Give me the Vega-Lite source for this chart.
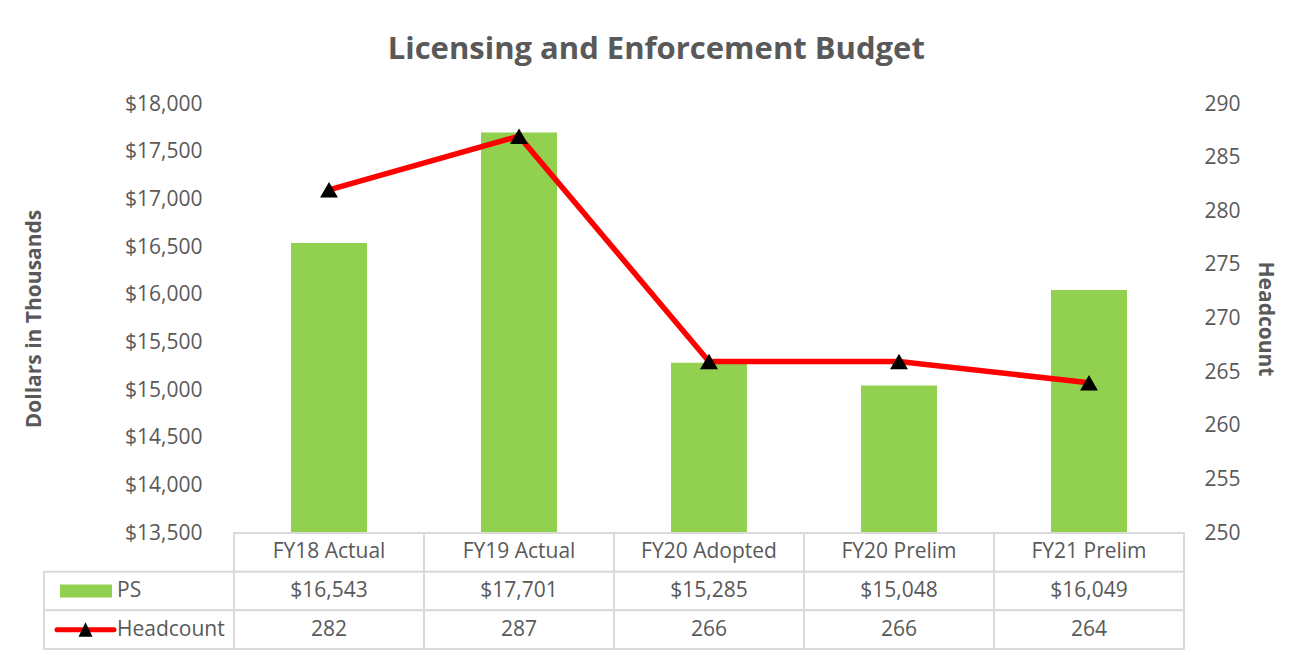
{
  "$schema": "https://vega.github.io/schema/vega-lite/v6.json",
  "background": "white",
  "padding": {"left": 23, "top": 34, "right": 5, "bottom": 5},
  "title": {"text": "Licensing and Enforcement Budget", "fontSize": 31, "font": "Open Sans", "fontWeight": "bold", "color": "#595959", "anchor": "middle", "offset": 27, "dx": 7},
  "config": {"view": {"stroke": null}, "font": "Open Sans"},
  "bounds": "flush",
  "datasets": {
    "budget": [
      {"cat": "FY18 Actual", "PS": 16543, "Headcount": 282},
      {"cat": "FY19 Actual", "PS": 17701, "Headcount": 287},
      {"cat": "FY20 Adopted", "PS": 15285, "Headcount": 266},
      {"cat": "FY20 Prelim", "PS": 15048, "Headcount": 266},
      {"cat": "FY21 Prelim", "PS": 16049, "Headcount": 264}
    ],
    "series": [{"series": "PS"}, {"series": "Headcount"}]
  },
  "vconcat": [
    {
      "width": 1140,
      "height": 429,
      "data": {"name": "budget"},
      "encoding": {
        "x": {"field": "cat", "type": "nominal", "sort": null,
              "scale": {"domain": ["legend", "FY18 Actual", "FY19 Actual", "FY20 Adopted", "FY20 Prelim", "FY21 Prelim"], "paddingInner": 0, "paddingOuter": 0},
              "axis": null}
      },
      "layer": [
        {
          "mark": {"type": "bar", "color": "#92D050", "width": {"band": 0.4}, "clip": true},
          "encoding": {
            "y": {"field": "PS", "type": "quantitative",
                  "scale": {"domain": [13500, 18000], "zero": false, "nice": false},
                  "axis": {"title": "Dollars in Thousands", "orient": "left", "offset": -190, "values": [13500,14000,14500,15000,15500,16000,16500,17000,17500,18000], "format": "$,.0f", "grid": false, "domain": false, "ticks": false, "labelPadding": 32, "labelFontSize": 21, "labelColor": "#595959", "titleFontSize": 21, "titleColor": "#595959", "titleFontWeight": "bold", "titlePadding": 80}},
            "y2": {"datum": 13500}
          }
        },
        {
          "mark": {"type": "line", "color": "#FF0000", "strokeWidth": 5.5,
                   "point": {"shape": "triangle-up", "fill": "black", "size": 320, "filled": true}},
          "encoding": {
            "y": {"field": "Headcount", "type": "quantitative",
                  "scale": {"domain": [250, 290], "zero": false, "nice": false},
                  "axis": {"title": "Headcount", "orient": "right", "values": [250,255,260,265,270,275,280,285,290], "grid": false, "domain": false, "ticks": false, "labelPadding": 20, "labelFontSize": 21, "labelColor": "#595959", "titleFontSize": 21, "titleColor": "#595959", "titleFontWeight": "bold", "titlePadding": 14}}
          }
        }
      ],
      "resolve": {"scale": {"y": "independent"}}
    },
    {
      "width": 1140,
      "height": 116,
      "data": {"name": "budget"},
      "encoding": {
        "x": {"field": "cat", "type": "nominal", "sort": null,
              "scale": {"domain": ["legend", "FY18 Actual", "FY19 Actual", "FY20 Adopted", "FY20 Prelim", "FY21 Prelim"], "paddingInner": 0, "paddingOuter": 0},
              "axis": null}
      },
      "layer": [
        {
          "mark": {"type": "rect", "fill": "white", "stroke": "#D9D9D9", "strokeWidth": 2},
          "encoding": {"y": {"datum": "header", "type": "ordinal", "scale": {"domain": ["header", "PS", "Headcount"], "paddingInner": 0, "paddingOuter": 0}, "axis": null}}
        },
        {
          "mark": {"type": "rect", "fill": "white", "stroke": "#D9D9D9", "strokeWidth": 2},
          "encoding": {"y": {"datum": "PS", "type": "ordinal"}}
        },
        {
          "mark": {"type": "rect", "fill": "white", "stroke": "#D9D9D9", "strokeWidth": 2},
          "encoding": {"y": {"datum": "Headcount", "type": "ordinal"}}
        },
        {
          "data": {"name": "series"},
          "mark": {"type": "rect", "fill": "white", "stroke": "#D9D9D9", "strokeWidth": 2},
          "encoding": {"x": {"datum": "legend"}, "y": {"field": "series", "type": "ordinal"}}
        },
        {
          "mark": {"type": "text", "fontSize": 21, "color": "#595959"},
          "encoding": {"y": {"datum": "header", "type": "ordinal"}, "text": {"field": "cat"}}
        },
        {
          "mark": {"type": "text", "fontSize": 21, "color": "#595959"},
          "encoding": {"y": {"datum": "PS", "type": "ordinal"}, "text": {"field": "PS", "type": "quantitative", "format": "$,.0f"}}
        },
        {
          "mark": {"type": "text", "fontSize": 21, "color": "#595959"},
          "encoding": {"y": {"datum": "Headcount", "type": "ordinal"}, "text": {"field": "Headcount", "type": "quantitative", "format": ".0f"}}
        },
        {
          "data": {"name": "series"},
          "mark": {"type": "text", "fontSize": 21, "color": "#595959", "align": "left", "dx": -22},
          "encoding": {"x": {"datum": "legend"}, "y": {"field": "series", "type": "ordinal"}, "text": {"field": "series"}}
        },
        {
          "data": {"name": "series"},
          "transform": [{"filter": "datum.series === 'PS'"}],
          "mark": {"type": "point", "filled": true, "fill": "#92D050", "strokeWidth": 0, "opacity": 1, "size": 40000, "shape": "M-0.79,-0.065H-0.27V0.065H-0.79Z"},
          "encoding": {"x": {"datum": "legend"}, "y": {"field": "series", "type": "ordinal"}}
        },
        {
          "data": {"name": "series"},
          "transform": [{"filter": "datum.series === 'Headcount'"}],
          "mark": {"type": "point", "filled": false, "stroke": "#FF0000", "strokeWidth": 5, "strokeCap": "round", "opacity": 1, "size": 40000, "shape": "M-0.82,0H-0.25"},
          "encoding": {"x": {"datum": "legend"}, "y": {"field": "series", "type": "ordinal"}}
        },
        {
          "data": {"name": "series"},
          "transform": [{"filter": "datum.series === 'Headcount'"}],
          "mark": {"type": "point", "filled": true, "fill": "black", "strokeWidth": 0, "opacity": 1, "size": 40000, "shape": "M-0.535,-0.075L-0.465,0.07L-0.605,0.07Z"},
          "encoding": {"x": {"datum": "legend"}, "y": {"field": "series", "type": "ordinal"}}
        }
      ]
    }
  ],
  "spacing": 0
}
